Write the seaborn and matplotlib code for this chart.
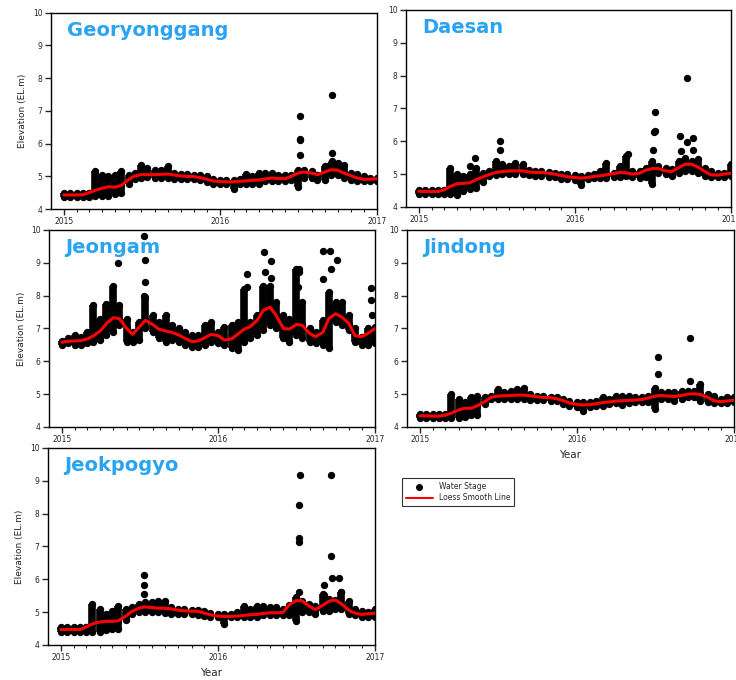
import pandas as pd
import seaborn as sns
import matplotlib.pyplot as plt
import matplotlib.dates as mdates
from matplotlib.lines import Line2D

# semi-monthly sampling dates (1st and 15th), 2015-01-01 .. 2017-01-01
dates = pd.date_range("2015-01-01", "2017-01-01", freq="SMS")

# ---- Georyonggang ----
geo_lo = [4.38, 4.38, 4.38, 4.38, 4.38, 4.40, 4.40, 4.40, 4.45, 4.50, 4.75, 4.92, 4.95, 4.97, 4.95, 4.95, 4.95,
          4.93, 4.92, 4.92, 4.93, 4.88, 4.82, 4.78, 4.76, 4.76, 4.62, 4.78, 4.78, 4.78, 4.75, 4.85, 4.85, 4.85,
          4.85, 4.90, 4.68, 4.95, 4.95, 4.90, 4.90, 5.05, 5.05, 4.95, 4.88, 4.85, 4.85, 4.85, 4.85]
geo_hi = [4.50, 4.50, 4.50, 4.50, 4.50, 5.15, 5.05, 5.00, 5.05, 5.15, 5.05, 5.10, 5.35, 5.25, 5.20, 5.20, 5.30,
          5.10, 5.08, 5.08, 5.05, 5.05, 5.00, 4.92, 4.90, 4.90, 4.90, 4.92, 5.08, 5.00, 5.10, 5.10, 5.10, 5.05,
          5.05, 5.05, 5.20, 5.20, 5.15, 5.05, 5.30, 5.40, 5.40, 5.35, 5.10, 5.08, 5.00, 4.95, 4.95]
geo_smooth = [4.43, 4.43, 4.43, 4.44, 4.50, 4.57, 4.64, 4.68, 4.67, 4.72, 4.90, 5.01, 5.05, 5.05, 5.05, 5.06,
              5.07, 5.04, 5.01, 5.00, 4.99, 4.96, 4.91, 4.86, 4.84, 4.83, 4.83, 4.85, 4.86, 4.88, 4.89, 4.92,
              4.95, 4.93, 4.93, 5.00, 5.10, 5.13, 5.10, 5.05, 5.13, 5.20, 5.19, 5.10, 5.02, 4.95, 4.91, 4.91, 4.93]
geo_peak_dates = ["2016-07-04", "2016-07-04", "2016-07-05", "2016-07-04", "2016-09-18", "2016-09-18", "2016-09-18"]
geo_peak_vals = [6.83, 6.15, 6.10, 5.65, 7.48, 5.72, 5.47]

# ---- Daesan ----
dae_lo = [4.40, 4.40, 4.40, 4.40, 4.40, 4.40, 4.38, 4.50, 4.55, 4.58, 4.75, 4.95, 4.98, 5.00, 5.00, 5.00, 5.00,
          4.98, 4.95, 4.95, 4.92, 4.90, 4.85, 4.85, 4.82, 4.68, 4.85, 4.88, 4.88, 4.88, 4.90, 4.92, 4.95, 4.90,
          4.88, 4.92, 4.70, 5.05, 5.00, 4.95, 5.05, 5.10, 5.10, 5.05, 4.95, 4.92, 4.90, 4.92, 4.95]
dae_hi = [4.53, 4.53, 4.53, 4.53, 4.53, 5.20, 5.00, 4.95, 5.00, 5.20, 5.05, 5.10, 5.40, 5.30, 5.25, 5.35, 5.30,
          5.12, 5.10, 5.10, 5.08, 5.05, 5.00, 5.00, 4.98, 4.95, 4.98, 5.00, 5.10, 5.35, 5.05, 5.25, 5.55, 5.10,
          5.10, 5.20, 5.40, 5.25, 5.20, 5.15, 5.40, 5.50, 5.40, 5.45, 5.20, 5.10, 5.05, 5.05, 5.30]
dae_smooth = [4.48, 4.47, 4.47, 4.47, 4.52, 4.62, 4.71, 4.72, 4.74, 4.83, 4.92, 4.99, 5.05, 5.08, 5.10, 5.10,
              5.10, 5.07, 5.05, 5.05, 5.03, 5.00, 4.96, 4.92, 4.90, 4.88, 4.90, 4.93, 4.95, 4.98, 5.02, 5.05,
              5.04, 5.00, 5.03, 5.12, 5.17, 5.17, 5.10, 5.08, 5.20, 5.30, 5.30, 5.22, 5.08, 4.98, 4.97, 5.00, 5.03]
dae_peak_dates = ["2015-04-30", "2015-05-12", "2015-07-11", "2015-07-11", "2016-05-05", "2016-07-03",
                  "2016-07-05", "2016-07-08", "2016-07-07", "2016-09-03", "2016-09-07", "2016-09-19",
                  "2016-09-19", "2016-10-05", "2016-10-05"]
dae_peak_vals = [5.25, 5.50, 5.75, 6.02, 5.62, 5.75, 6.27, 6.32, 6.90, 6.15, 5.72, 5.97, 7.92, 6.10, 5.75]

# ---- Jeongam ----
jeo_lo = [6.50, 6.55, 6.50, 6.50, 6.55, 6.60, 6.65, 6.80, 6.90, 7.10, 6.60, 6.60, 6.65, 7.00, 6.90, 6.70, 6.60,
          6.65, 6.60, 6.50, 6.45, 6.45, 6.50, 6.60, 6.55, 6.50, 6.40, 6.35, 6.60, 6.70, 6.80, 6.95, 7.10, 7.00,
          6.70, 6.60, 6.80, 6.70, 6.60, 6.55, 6.50, 6.40, 7.20, 7.10, 6.95, 6.60, 6.50, 6.50, 6.55]
jeo_hi = [6.62, 6.70, 6.80, 6.75, 6.90, 7.70, 7.30, 7.75, 8.30, 7.70, 7.30, 6.90, 7.20, 7.95, 7.40, 7.20, 7.40,
          7.10, 7.00, 6.90, 6.80, 6.80, 7.10, 7.20, 6.90, 7.05, 7.10, 7.20, 8.20, 7.20, 7.40, 8.30, 8.30, 7.80,
          7.40, 7.30, 8.80, 7.80, 7.00, 6.90, 7.25, 8.10, 7.80, 7.80, 7.40, 7.00, 6.75, 7.00, 7.05]
jeo_smooth = [6.58, 6.61, 6.62, 6.63, 6.68, 6.77, 6.93, 7.15, 7.33, 7.30, 7.00, 6.82, 7.05, 7.25, 7.12, 6.98,
              6.92, 6.88, 6.80, 6.70, 6.60, 6.62, 6.72, 6.82, 6.78, 6.65, 6.68, 6.82, 6.98, 7.05, 7.25, 7.55,
              7.65, 7.40, 7.00, 6.98, 7.12, 7.10, 6.85, 6.75, 6.88, 7.30, 7.45, 7.35, 7.15, 6.78, 6.75, 6.85, 7.00]
jeo_peak_dates = ["2015-05-13", "2015-07-13", "2015-07-13", "2015-07-11", "2015-07-12", "2016-03-07",
                  "2016-03-07", "2016-04-16", "2016-04-19", "2016-05-04", "2016-05-02", "2016-07-06",
                  "2016-07-07", "2016-07-07", "2016-09-02", "2016-09-02", "2016-09-18", "2016-09-19",
                  "2016-10-05", "2016-12-23", "2016-12-23", "2016-12-24"]
jeo_peak_vals = [9.00, 8.42, 9.10, 9.83, 8.00, 8.65, 8.25, 9.33, 8.72, 9.05, 8.55, 8.25, 8.72, 8.80, 8.52,
                 9.35, 9.35, 8.82, 9.10, 8.22, 7.88, 7.40]

# ---- Jindong ----
jin_lo = [4.28, 4.28, 4.28, 4.28, 4.28, 4.28, 4.28, 4.30, 4.35, 4.35, 4.70, 4.85, 4.85, 4.85, 4.85, 4.85, 4.85,
          4.83, 4.83, 4.82, 4.80, 4.78, 4.70, 4.65, 4.62, 4.48, 4.62, 4.65, 4.65, 4.70, 4.72, 4.68, 4.72, 4.75,
          4.75, 4.75, 4.55, 4.85, 4.85, 4.80, 4.85, 4.90, 4.90, 4.80, 4.75, 4.72, 4.72, 4.72, 4.75]
jin_hi = [4.40, 4.40, 4.40, 4.40, 4.40, 5.00, 4.85, 4.75, 4.90, 4.95, 4.90, 4.95, 5.15, 5.05, 5.10, 5.15, 5.20,
          5.00, 4.95, 4.95, 4.92, 4.92, 4.85, 4.78, 4.75, 4.75, 4.75, 4.80, 4.90, 4.85, 4.95, 4.95, 4.95, 4.92,
          4.90, 4.95, 5.20, 5.05, 5.05, 5.05, 5.10, 5.10, 5.10, 5.30, 5.00, 4.95, 4.85, 4.92, 4.92]
jin_smooth = [4.34, 4.34, 4.33, 4.33, 4.36, 4.42, 4.52, 4.57, 4.57, 4.65, 4.77, 4.90, 4.94, 4.95, 4.96, 4.97,
              4.97, 4.95, 4.92, 4.90, 4.89, 4.86, 4.80, 4.73, 4.69, 4.67, 4.68, 4.71, 4.74, 4.76, 4.79, 4.80,
              4.81, 4.82, 4.84, 4.88, 4.94, 4.96, 4.94, 4.93, 4.96, 5.00, 5.01, 4.99, 4.90, 4.80, 4.77, 4.79, 4.82]
jin_peak_dates = ["2016-07-07", "2016-07-08", "2016-09-21", "2016-09-21"]
jin_peak_vals = [6.12, 5.60, 6.72, 5.40]

# ---- Jeokpogyo ----
jpk_lo = [4.40, 4.40, 4.40, 4.40, 4.40, 4.40, 4.40, 4.45, 4.50, 4.50, 4.75, 4.95, 5.00, 5.00, 5.00, 5.00, 4.98,
          4.95, 4.95, 4.95, 4.95, 4.92, 4.88, 4.85, 4.85, 4.65, 4.85, 4.85, 4.85, 4.85, 4.85, 4.92, 4.92, 4.90,
          4.90, 4.90, 4.72, 5.00, 5.00, 4.95, 5.05, 5.05, 5.10, 5.10, 4.95, 4.90, 4.85, 4.85, 4.85]
jpk_hi = [4.55, 4.55, 4.55, 4.55, 4.55, 5.25, 5.10, 4.95, 5.05, 5.20, 5.10, 5.15, 5.25, 5.30, 5.30, 5.35, 5.35,
          5.15, 5.10, 5.10, 5.08, 5.08, 5.02, 4.98, 4.95, 4.95, 4.95, 5.00, 5.20, 5.10, 5.20, 5.20, 5.15, 5.15,
          5.10, 5.15, 5.45, 5.30, 5.25, 5.20, 5.55, 5.40, 5.35, 5.60, 5.35, 5.10, 5.05, 5.00, 5.10]
jpk_smooth = [4.47, 4.47, 4.47, 4.47, 4.55, 4.64, 4.70, 4.72, 4.72, 4.74, 4.88, 5.02, 5.12, 5.16, 5.14, 5.12,
              5.12, 5.10, 5.06, 5.04, 5.03, 5.03, 4.97, 4.92, 4.88, 4.87, 4.87, 4.88, 4.90, 4.92, 4.93, 4.96,
              4.98, 4.98, 4.99, 5.22, 5.35, 5.35, 5.18, 5.08, 5.20, 5.33, 5.37, 5.25, 5.06, 4.97, 4.93, 4.95, 4.97]
jpk_peak_dates = ["2015-07-13", "2015-07-13", "2015-07-14", "2016-07-08", "2016-07-09", "2016-07-07",
                  "2016-07-11", "2016-07-07", "2016-09-05", "2016-09-04", "2016-09-20", "2016-09-20",
                  "2016-09-24", "2016-10-10", "2016-10-14"]
jpk_peak_vals = [6.12, 5.82, 5.55, 7.15, 7.25, 8.25, 9.18, 5.62, 5.82, 5.52, 9.18, 6.72, 6.05, 6.05, 5.60]

stations = ["Georyonggang", "Daesan", "Jeongam", "Jindong", "Jeokpogyo"]

sns.set_style("ticks")
plt.rcParams["font.family"] = ["DejaVu Sans"]

fig = plt.figure(figsize=(7.36, 6.8), dpi=100)
# axes rectangles (figure fraction)
rects = [
    [0.0693, 0.6926, 0.4430, 0.2887],
    [0.5516, 0.6956, 0.4416, 0.2897],
    [0.0666, 0.3721, 0.4430, 0.2897],
    [0.5530, 0.3721, 0.4443, 0.2897],
    [0.0652, 0.0515, 0.4443, 0.2897],
]
panels = [
    (geo_lo, geo_hi, geo_smooth, geo_peak_dates, geo_peak_vals),
    (dae_lo, dae_hi, dae_smooth, dae_peak_dates, dae_peak_vals),
    (jeo_lo, jeo_hi, jeo_smooth, jeo_peak_dates, jeo_peak_vals),
    (jin_lo, jin_hi, jin_smooth, jin_peak_dates, jin_peak_vals),
    (jpk_lo, jpk_hi, jpk_smooth, jpk_peak_dates, jpk_peak_vals),
]

for i, (name, rect, (lo, hi, smooth, pk_d, pk_v)) in enumerate(zip(stations, rects, panels)):
    ax = fig.add_axes(rect)
    pts = pd.DataFrame({
        "date": list(dates) * 3 + list(pd.to_datetime(pk_d)),
        "stage": lo + hi + smooth + pk_v,
    })
    # range of the stage record per half month, then the individual readings
    ax.vlines(dates, lo, hi, color="black", lw=5.5, zorder=2)
    sns.scatterplot(data=pts, x="date", y="stage", color="black", s=28, linewidth=0, ax=ax, zorder=2)
    sns.lineplot(x=dates, y=smooth, color="red", lw=2.2, ax=ax, zorder=3)

    ax.set_xlim(pd.Timestamp("2014-12-02"), pd.Timestamp("2017-01-01"))
    ax.set_ylim(4, 10)
    ax.xaxis.set_major_locator(mdates.YearLocator())
    ax.xaxis.set_major_formatter(mdates.DateFormatter("%Y"))
    ax.xaxis.set_minor_locator(mdates.MonthLocator())
    ax.set_yticks(range(4, 11))
    ax.tick_params(which="major", direction="out", length=4, width=1, labelsize=5.5, pad=2)
    ax.tick_params(which="minor", direction="out", length=2.5, width=0.8)
    for sp in ax.spines.values():
        sp.set_linewidth(1.0)
        sp.set_color("black")

    ax.set_xlabel("Year" if i in (3, 4) else "", fontsize=7.5, labelpad=4)
    ax.set_ylabel("Elevation (EL.m)" if i in (0, 2, 4) else "", fontsize=6.5, labelpad=4)
    ax.text(0.05, 0.91, name, transform=ax.transAxes, ha="left", va="center",
            fontsize=14, fontweight="bold", color="#2AA4F0")

handles = [
    Line2D([], [], marker="o", color="black", linestyle="none", markersize=4),
    Line2D([], [], color="red", lw=1.5),
]
leg = fig.legend(handles, ["Water Stage", "Loess Smooth Line"], loc="upper left",
                 bbox_to_anchor=(0.541, 0.302), fontsize=5.5, frameon=True, fancybox=False,
                 edgecolor="black", handlelength=3.5, borderpad=0.5, labelspacing=0.25)
leg.get_frame().set_linewidth(0.8)

fig.savefig("out.png", dpi=100)
